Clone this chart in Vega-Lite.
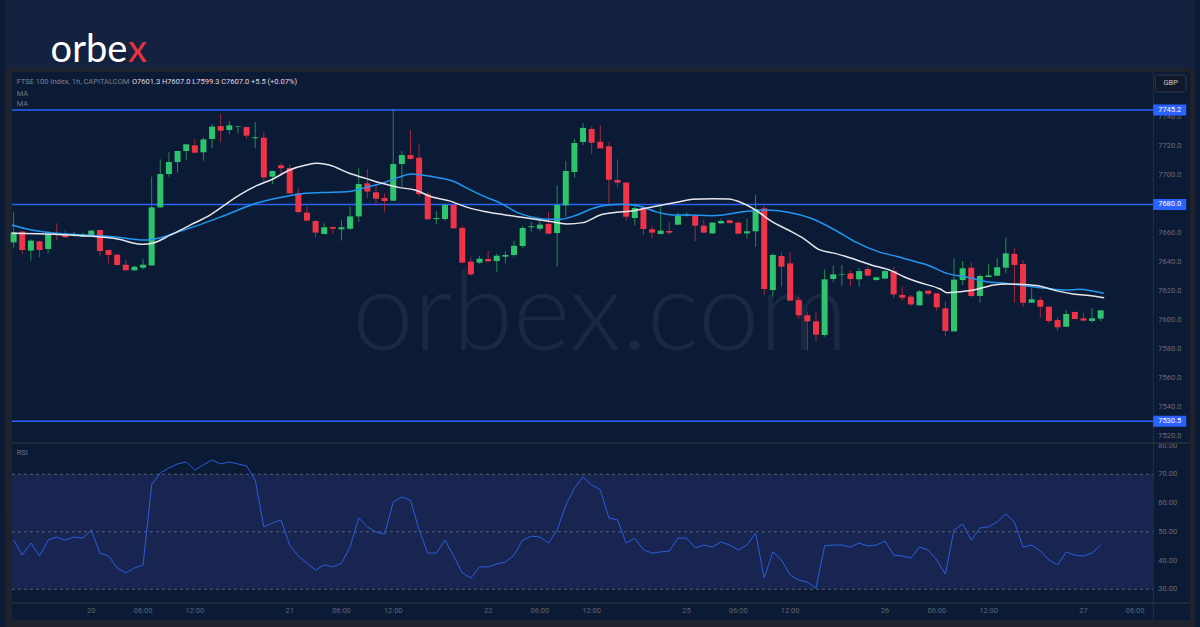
{
  "$schema": "https://vega.github.io/schema/vega-lite/v6.json",
  "width": 1200,
  "height": 627,
  "autosize": "none",
  "padding": 0,
  "background": "#0b1b36",
  "config": {"view": {"stroke": null}, "font": "Roboto", "axis": {"disable": true}},
  "datasets": {
    "candles": [
      {"i":-9,"o":7653.9,"h":7674.6,"l":7649.8,"c":7660.8},
      {"i":-8,"o":7661.3,"h":7661.7,"l":7645.9,"c":7648.6},
      {"i":-7,"o":7648.2,"h":7656.0,"l":7641.3,"c":7655.1},
      {"i":-6,"o":7654.6,"h":7655.0,"l":7643.6,"c":7648.6},
      {"i":-5,"o":7649.3,"h":7661.3,"l":7646.3,"c":7659.7},
      {"i":-4,"o":7660.1,"h":7667.0,"l":7655.5,"c":7659.0},
      {"i":-3,"o":7659.2,"h":7662.4,"l":7657.0,"c":7657.4},
      {"i":-2,"o":7658.4,"h":7661.3,"l":7657.8,"c":7659.1},
      {"i":-1,"o":7657.8,"h":7660.6,"l":7657.4,"c":7659.2},
      {"i":0,"o":7658.5,"h":7662.4,"l":7657.8,"c":7662.0},
      {"i":1,"o":7662.4,"h":7662.6,"l":7644.7,"c":7647.9},
      {"i":2,"o":7648.6,"h":7648.8,"l":7639.4,"c":7645.2},
      {"i":3,"o":7645.4,"h":7645.9,"l":7637.8,"c":7638.3},
      {"i":4,"o":7638.5,"h":7641.7,"l":7634.4,"c":7634.6},
      {"i":5,"o":7634.6,"h":7637.8,"l":7634.4,"c":7637.1},
      {"i":6,"o":7636.4,"h":7642.2,"l":7635.3,"c":7638.5},
      {"i":7,"o":7638.0,"h":7699.2,"l":7637.8,"c":7678.0},
      {"i":8,"o":7678.0,"h":7711.1,"l":7677.8,"c":7701.0},
      {"i":9,"o":7701.0,"h":7716.0,"l":7699.2,"c":7709.3},
      {"i":10,"o":7709.3,"h":7717.0,"l":7702.0,"c":7716.9},
      {"i":11,"o":7716.9,"h":7721.6,"l":7710.7,"c":7721.5},
      {"i":12,"o":7720.8,"h":7725.2,"l":7715.5,"c":7715.7},
      {"i":13,"o":7716.0,"h":7726.1,"l":7710.2,"c":7724.9},
      {"i":14,"o":7725.2,"h":7735.5,"l":7718.7,"c":7733.7},
      {"i":15,"o":7734.1,"h":7742.4,"l":7722.6,"c":7730.9},
      {"i":16,"o":7731.4,"h":7737.6,"l":7728.2,"c":7734.6},
      {"i":17,"o":7733.5,"h":7734.1,"l":7729.1,"c":7733.9},
      {"i":18,"o":7733.4,"h":7733.6,"l":7725.6,"c":7727.5},
      {"i":19,"o":7725.6,"h":7736.7,"l":7718.7,"c":7726.3},
      {"i":20,"o":7726.1,"h":7729.8,"l":7695.7,"c":7698.7},
      {"i":21,"o":7699.2,"h":7703.3,"l":7693.9,"c":7703.1},
      {"i":22,"o":7707.0,"h":7708.8,"l":7701.0,"c":7705.0},
      {"i":23,"o":7705.2,"h":7707.7,"l":7687.5,"c":7687.7},
      {"i":24,"o":7687.5,"h":7691.1,"l":7673.9,"c":7674.8},
      {"i":25,"o":7674.4,"h":7678.5,"l":7668.7,"c":7668.9},
      {"i":26,"o":7668.6,"h":7669.3,"l":7657.4,"c":7660.6},
      {"i":27,"o":7659.7,"h":7667.0,"l":7659.5,"c":7664.3},
      {"i":28,"o":7664.5,"h":7664.7,"l":7659.7,"c":7663.3},
      {"i":29,"o":7662.9,"h":7668.9,"l":7655.1,"c":7664.3},
      {"i":30,"o":7663.3,"h":7678.5,"l":7662.4,"c":7671.8},
      {"i":31,"o":7671.8,"h":7705.0,"l":7667.9,"c":7694.1},
      {"i":32,"o":7694.6,"h":7704.5,"l":7684.3,"c":7688.9},
      {"i":33,"o":7688.4,"h":7693.4,"l":7679.2,"c":7684.0},
      {"i":34,"o":7684.5,"h":7687.7,"l":7674.4,"c":7682.4},
      {"i":35,"o":7682.6,"h":7746.0,"l":7682.4,"c":7707.9},
      {"i":36,"o":7707.9,"h":7716.9,"l":7692.3,"c":7714.1},
      {"i":37,"o":7714.1,"h":7731.4,"l":7711.0,"c":7711.4},
      {"i":38,"o":7712.3,"h":7721.5,"l":7685.4,"c":7687.2},
      {"i":39,"o":7687.0,"h":7688.9,"l":7669.6,"c":7669.8},
      {"i":40,"o":7669.9,"h":7675.3,"l":7666.6,"c":7670.6},
      {"i":41,"o":7670.0,"h":7680.8,"l":7668.9,"c":7679.7},
      {"i":42,"o":7679.7,"h":7680.5,"l":7662.9,"c":7663.6},
      {"i":43,"o":7663.8,"h":7665.6,"l":7639.4,"c":7639.9},
      {"i":44,"o":7640.6,"h":7643.6,"l":7630.9,"c":7631.8},
      {"i":45,"o":7639.9,"h":7644.7,"l":7639.2,"c":7642.6},
      {"i":46,"o":7642.4,"h":7648.2,"l":7640.6,"c":7640.8},
      {"i":47,"o":7641.0,"h":7645.9,"l":7633.7,"c":7644.7},
      {"i":48,"o":7644.0,"h":7647.5,"l":7639.4,"c":7645.2},
      {"i":49,"o":7645.2,"h":7655.1,"l":7644.0,"c":7651.6},
      {"i":50,"o":7651.4,"h":7665.2,"l":7650.0,"c":7663.8},
      {"i":51,"o":7664.3,"h":7667.9,"l":7661.3,"c":7665.0},
      {"i":52,"o":7663.3,"h":7669.3,"l":7661.7,"c":7666.1},
      {"i":53,"o":7666.6,"h":7674.8,"l":7659.7,"c":7659.9},
      {"i":54,"o":7660.3,"h":7693.4,"l":7637.1,"c":7679.7},
      {"i":55,"o":7679.4,"h":7710.2,"l":7671.6,"c":7703.1},
      {"i":56,"o":7702.4,"h":7725.2,"l":7698.5,"c":7722.4},
      {"i":57,"o":7723.1,"h":7736.0,"l":7721.0,"c":7732.8},
      {"i":58,"o":7732.1,"h":7734.1,"l":7714.8,"c":7722.6},
      {"i":59,"o":7723.3,"h":7734.6,"l":7718.5,"c":7718.7},
      {"i":60,"o":7720.1,"h":7722.9,"l":7680.3,"c":7697.1},
      {"i":61,"o":7696.9,"h":7711.1,"l":7691.8,"c":7695.1},
      {"i":62,"o":7695.1,"h":7695.7,"l":7668.9,"c":7671.6},
      {"i":63,"o":7670.7,"h":7680.8,"l":7665.4,"c":7677.6},
      {"i":64,"o":7677.8,"h":7678.5,"l":7659.0,"c":7663.1},
      {"i":65,"o":7662.9,"h":7665.2,"l":7656.7,"c":7660.6},
      {"i":66,"o":7659.7,"h":7679.0,"l":7659.5,"c":7662.0},
      {"i":67,"o":7661.7,"h":7667.7,"l":7659.0,"c":7660.6},
      {"i":68,"o":7666.1,"h":7674.6,"l":7665.9,"c":7672.5},
      {"i":69,"o":7672.3,"h":7674.6,"l":7671.6,"c":7673.0},
      {"i":70,"o":7672.3,"h":7672.5,"l":7654.8,"c":7665.4},
      {"i":71,"o":7665.4,"h":7669.8,"l":7660.4,"c":7660.6},
      {"i":72,"o":7660.1,"h":7667.7,"l":7659.7,"c":7667.5},
      {"i":73,"o":7667.0,"h":7670.2,"l":7666.6,"c":7668.6},
      {"i":74,"o":7669.1,"h":7669.8,"l":7667.0,"c":7667.2},
      {"i":75,"o":7667.5,"h":7668.4,"l":7659.7,"c":7659.9},
      {"i":76,"o":7660.1,"h":7670.0,"l":7656.4,"c":7661.5},
      {"i":77,"o":7661.5,"h":7686.6,"l":7650.9,"c":7676.7},
      {"i":78,"o":7677.4,"h":7679.0,"l":7617.6,"c":7621.7},
      {"i":79,"o":7621.0,"h":7646.3,"l":7616.4,"c":7645.2},
      {"i":80,"o":7644.5,"h":7646.8,"l":7623.3,"c":7637.1},
      {"i":81,"o":7639.4,"h":7647.2,"l":7613.5,"c":7613.7},
      {"i":82,"o":7614.1,"h":7616.4,"l":7601.3,"c":7603.6},
      {"i":83,"o":7603.6,"h":7606.1,"l":7579.6,"c":7599.4},
      {"i":84,"o":7599.4,"h":7605.9,"l":7585.4,"c":7590.2},
      {"i":85,"o":7590.0,"h":7635.3,"l":7588.9,"c":7628.4},
      {"i":86,"o":7628.6,"h":7638.0,"l":7626.3,"c":7631.8},
      {"i":87,"o":7631.4,"h":7638.3,"l":7624.0,"c":7631.8},
      {"i":88,"o":7632.5,"h":7634.4,"l":7623.8,"c":7628.6},
      {"i":89,"o":7628.4,"h":7636.2,"l":7623.3,"c":7634.1},
      {"i":90,"o":7635.5,"h":7636.7,"l":7630.7,"c":7630.9},
      {"i":91,"o":7627.9,"h":7630.2,"l":7627.5,"c":7629.8},
      {"i":92,"o":7628.9,"h":7635.3,"l":7628.4,"c":7634.1},
      {"i":93,"o":7634.1,"h":7637.1,"l":7615.3,"c":7618.0},
      {"i":94,"o":7617.6,"h":7623.3,"l":7613.7,"c":7615.7},
      {"i":95,"o":7616.4,"h":7617.6,"l":7610.0,"c":7611.1},
      {"i":96,"o":7610.5,"h":7621.0,"l":7610.3,"c":7620.1},
      {"i":97,"o":7620.6,"h":7620.8,"l":7617.4,"c":7618.5},
      {"i":98,"o":7618.7,"h":7618.9,"l":7606.8,"c":7609.1},
      {"i":99,"o":7608.4,"h":7613.4,"l":7588.9,"c":7592.8},
      {"i":100,"o":7592.5,"h":7642.9,"l":7592.3,"c":7628.2},
      {"i":101,"o":7627.9,"h":7641.0,"l":7624.5,"c":7636.0},
      {"i":102,"o":7636.4,"h":7640.1,"l":7616.0,"c":7616.9},
      {"i":103,"o":7616.9,"h":7631.8,"l":7612.3,"c":7630.7},
      {"i":104,"o":7630.0,"h":7639.2,"l":7629.8,"c":7631.1},
      {"i":105,"o":7630.9,"h":7642.9,"l":7630.7,"c":7636.7},
      {"i":106,"o":7636.4,"h":7657.1,"l":7632.5,"c":7646.3},
      {"i":107,"o":7645.9,"h":7649.8,"l":7612.3,"c":7638.3},
      {"i":108,"o":7638.9,"h":7641.7,"l":7609.5,"c":7612.3},
      {"i":109,"o":7612.3,"h":7622.2,"l":7612.1,"c":7614.6},
      {"i":110,"o":7614.1,"h":7616.0,"l":7602.2,"c":7609.5},
      {"i":111,"o":7609.5,"h":7610.0,"l":7598.0,"c":7599.7},
      {"i":112,"o":7600.3,"h":7602.2,"l":7593.0,"c":7595.3},
      {"i":113,"o":7595.7,"h":7607.2,"l":7595.5,"c":7604.5},
      {"i":114,"o":7605.9,"h":7606.0,"l":7600.8,"c":7601.0},
      {"i":115,"o":7601.5,"h":7605.4,"l":7599.8,"c":7599.9},
      {"i":116,"o":7599.7,"h":7608.4,"l":7598.5,"c":7601.5},
      {"i":117,"o":7601.3,"h":7607.0,"l":7599.3,"c":7607.0}
    ],
    "maw": [
      {"i":-9.2,"v":7660.1},{"i":-4.25,"v":7659.4},{"i":2.6,"v":7656.7},{"i":6.1,"v":7652.5},
      {"i":7.05,"v":7653.2},{"i":9.2,"v":7659.0},{"i":11.5,"v":7665.9},{"i":13.8,"v":7672.8},
      {"i":15.3,"v":7679.0},{"i":17.2,"v":7686.6},{"i":19.1,"v":7692.8},{"i":21.0,"v":7697.4},
      {"i":23.0,"v":7703.8},{"i":24.9,"v":7707.2},{"i":26.2,"v":7708.4},{"i":27.6,"v":7707.2},
      {"i":29.9,"v":7701.5},{"i":31.8,"v":7698.0},{"i":33.7,"v":7694.6},{"i":35.6,"v":7691.8},
      {"i":37.5,"v":7690.0},{"i":39.4,"v":7685.4},{"i":41.5,"v":7682.5},{"i":43.6,"v":7678.0},
      {"i":45.6,"v":7675.1},{"i":49.4,"v":7671.6},{"i":53.2,"v":7668.2},{"i":55.1,"v":7666.6},
      {"i":57.0,"v":7667.5},{"i":59.0,"v":7672.8},{"i":60.9,"v":7674.6},{"i":62.8,"v":7675.7},
      {"i":64.7,"v":7678.0},{"i":66.6,"v":7680.1},{"i":68.2,"v":7681.9},{"i":69.7,"v":7683.6},
      {"i":72.0,"v":7684.0},{"i":73.9,"v":7683.8},{"i":75.1,"v":7681.9},{"i":77.0,"v":7676.2},
      {"i":78.9,"v":7668.2},{"i":80.8,"v":7662.4},{"i":82.7,"v":7656.0},{"i":84.3,"v":7649.1},
      {"i":86.2,"v":7646.3},{"i":88.1,"v":7642.9},{"i":90.4,"v":7638.3},{"i":92.7,"v":7634.4},
      {"i":94.2,"v":7630.2},{"i":96.0,"v":7626.2},{"i":98.4,"v":7621.7},{"i":99.2,"v":7619.2},
      {"i":100.7,"v":7619.9},{"i":102.3,"v":7621.0},{"i":104.6,"v":7624.5},{"i":106.1,"v":7625.2},
      {"i":108.0,"v":7624.9},{"i":109.9,"v":7623.8},{"i":111.8,"v":7620.6},{"i":113.8,"v":7618.3},
      {"i":116.1,"v":7616.9},{"i":117.4,"v":7615.7}
    ],
    "mab": [
      {"i":-9.2,"v":7665.9},{"i":-6.9,"v":7662.4},{"i":-2.3,"v":7659.4},{"i":2.6,"v":7657.8},
      {"i":6.1,"v":7655.5},{"i":8.0,"v":7657.1},{"i":9.9,"v":7660.8},{"i":13.0,"v":7667.0},
      {"i":15.3,"v":7672.1},{"i":19.1,"v":7680.8},{"i":23.0,"v":7686.1},{"i":24.9,"v":7687.7},
      {"i":26.8,"v":7688.2},{"i":29.9,"v":7688.9},{"i":31.8,"v":7691.8},{"i":33.7,"v":7694.6},
      {"i":35.6,"v":7698.7},{"i":37.1,"v":7701.0},{"i":38.3,"v":7700.3},{"i":40.2,"v":7698.5},
      {"i":42.1,"v":7695.7},{"i":43.6,"v":7691.1},{"i":45.6,"v":7685.4},{"i":47.5,"v":7680.8},
      {"i":49.4,"v":7674.4},{"i":51.3,"v":7671.1},{"i":53.2,"v":7669.8},{"i":54.4,"v":7669.8},
      {"i":56.3,"v":7672.8},{"i":58.2,"v":7677.4},{"i":59.7,"v":7679.4},{"i":61.6,"v":7680.1},
      {"i":63.5,"v":7679.0},{"i":65.4,"v":7675.1},{"i":67.4,"v":7672.8},{"i":69.3,"v":7672.8},
      {"i":72.0,"v":7672.3},{"i":75.8,"v":7675.1},{"i":78.1,"v":7676.2},{"i":80.8,"v":7674.6},
      {"i":83.4,"v":7670.5},{"i":86.2,"v":7662.4},{"i":88.5,"v":7654.4},{"i":91.2,"v":7647.5},
      {"i":93.5,"v":7644.0},{"i":95.7,"v":7640.3},{"i":96.9,"v":7638.3},{"i":99.2,"v":7632.5},
      {"i":101.5,"v":7629.8},{"i":103.8,"v":7626.8},{"i":106.1,"v":7625.6},{"i":108.4,"v":7623.8},
      {"i":110.7,"v":7622.2},{"i":113.0,"v":7621.0},{"i":114.5,"v":7621.5},{"i":116.1,"v":7620.3},
      {"i":117.4,"v":7618.7}
    ],
    "rsi": [
      {"i":-9,"r":47.1},{"i":-8,"r":41.9},{"i":-7,"r":46.1},{"i":-6,"r":41.6},{"i":-5,"r":47.1},
      {"i":-4,"r":48.2},{"i":-3,"r":47.1},{"i":-2,"r":48.2},{"i":-1,"r":47.8},{"i":0,"r":50.6},
      {"i":1,"r":42.6},{"i":2,"r":41.6},{"i":3,"r":37.4},{"i":4,"r":35.7},{"i":5,"r":37.4},
      {"i":6,"r":38.5},{"i":7,"r":66.3},{"i":8,"r":70.5},{"i":9,"r":72.2},{"i":10,"r":73.6},
      {"i":11,"r":74.3},{"i":12,"r":71.5},{"i":13,"r":73.3},{"i":14,"r":75.0},{"i":15,"r":73.6},
      {"i":16,"r":74.3},{"i":17,"r":73.6},{"i":18,"r":72.9},{"i":19,"r":68.0},{"i":20,"r":51.7},
      {"i":21,"r":53.1},{"i":22,"r":54.1},{"i":23,"r":45.4},{"i":24,"r":41.6},{"i":25,"r":39.1},
      {"i":26,"r":36.7},{"i":27,"r":38.5},{"i":28,"r":37.8},{"i":29,"r":39.1},{"i":30,"r":44.7},
      {"i":31,"r":54.8},{"i":32,"r":51.7},{"i":33,"r":49.9},{"i":34,"r":49.2},{"i":35,"r":60.4},
      {"i":36,"r":62.1},{"i":37,"r":61.0},{"i":38,"r":50.6},{"i":39,"r":42.6},{"i":40,"r":42.6},
      {"i":41,"r":47.1},{"i":42,"r":41.6},{"i":43,"r":35.7},{"i":44,"r":33.9},{"i":45,"r":37.8},
      {"i":46,"r":37.8},{"i":47,"r":38.8},{"i":48,"r":39.5},{"i":49,"r":41.9},{"i":50,"r":47.1},
      {"i":51,"r":48.5},{"i":52,"r":48.2},{"i":53,"r":46.1},{"i":54,"r":50.6},{"i":55,"r":59.3},
      {"i":56,"r":65.2},{"i":57,"r":69.1},{"i":58,"r":66.3},{"i":59,"r":64.6},{"i":60,"r":54.8},
      {"i":61,"r":54.1},{"i":62,"r":46.1},{"i":63,"r":47.8},{"i":64,"r":43.7},{"i":65,"r":42.6},
      {"i":66,"r":43.0},{"i":67,"r":43.3},{"i":68,"r":47.8},{"i":69,"r":47.8},{"i":70,"r":44.4},
      {"i":71,"r":45.4},{"i":72,"r":44.7},{"i":73,"r":46.5},{"i":74,"r":45.4},{"i":75,"r":43.7},
      {"i":76,"r":45.4},{"i":77,"r":49.6},{"i":78,"r":33.9},{"i":79,"r":43.0},{"i":80,"r":40.2},
      {"i":81,"r":35.0},{"i":82,"r":33.2},{"i":83,"r":32.5},{"i":84,"r":30.4},{"i":85,"r":45.1},
      {"i":86,"r":45.4},{"i":87,"r":45.4},{"i":88,"r":44.7},{"i":89,"r":46.1},{"i":90,"r":45.1},
      {"i":91,"r":45.4},{"i":92,"r":46.8},{"i":93,"r":41.9},{"i":94,"r":41.6},{"i":95,"r":40.9},
      {"i":96,"r":44.7},{"i":97,"r":43.7},{"i":98,"r":40.2},{"i":99,"r":35.3},{"i":100,"r":50.6},
      {"i":101,"r":52.7},{"i":102,"r":47.1},{"i":103,"r":51.3},{"i":104,"r":51.7},{"i":105,"r":53.4},
      {"i":106,"r":56.2},{"i":107,"r":53.4},{"i":108,"r":44.7},{"i":109,"r":45.4},{"i":110,"r":43.3},
      {"i":111,"r":40.2},{"i":112,"r":38.5},{"i":113,"r":43.0},{"i":114,"r":41.9},{"i":115,"r":41.6},
      {"i":116,"r":42.6},{"i":117,"r":45.4}
    ],
    "levels": [{"v":7745.2},{"v":7680.0},{"v":7530.5}],
    "rsilev": [{"v":70},{"v":50},{"v":30}],
    "pticks": [{"v":7520},{"v":7540},{"v":7560},{"v":7580},{"v":7600},{"v":7620},{"v":7640},{"v":7660},{"v":7680},{"v":7700},{"v":7720},{"v":7740}],
    "rticks": [{"v":30},{"v":40},{"v":50},{"v":60},{"v":70},{"v":80}],
    "xticks": [
      {"i":0,"t":"20"},{"i":6,"t":"06:00"},{"i":12,"t":"12:00"},
      {"i":23,"t":"21"},{"i":29,"t":"06:00"},{"i":35,"t":"12:00"},
      {"i":46,"t":"22"},{"i":52,"t":"06:00"},{"i":58,"t":"12:00"},
      {"i":69,"t":"25"},{"i":75,"t":"06:00"},{"i":81,"t":"12:00"},
      {"i":92,"t":"26"},{"i":98,"t":"06:00"},{"i":104,"t":"12:00"},
      {"i":115,"t":"27"},{"i":121,"t":"06:00"}
    ]
  },
  "layer": [
    {
      "layer": [
        {
          "data": {"values": [{}]},
          "mark": {"type": "rect", "color": "#172550"},
          "encoding": {
            "x": {"datum": -9.195, "type": "quantitative", "scale": {"domain": [-10, 127.931], "nice": false, "zero": false}, "axis": null},
            "x2": {"datum": 123.103},
            "y": {"datum": 30, "type": "quantitative", "scale": {"domain": [16.89, 234.97], "nice": false, "zero": false}, "axis": null},
            "y2": {"datum": 70}
          }
        },
        {
          "data": {"name": "rsilev"},
          "mark": {"type": "rule", "color": "#787b86", "strokeWidth": 1, "strokeDash": [3, 3], "opacity": 0.7},
          "encoding": {
            "x": {"datum": -9.195, "type": "quantitative", "axis": null},
            "x2": {"datum": 123.103},
            "y": {"field": "v", "type": "quantitative", "axis": null}
          }
        },
        {
          "data": {"name": "rsi"},
          "mark": {"type": "line", "color": "#2b5ce0", "strokeWidth": 1},
          "encoding": {
            "x": {"field": "i", "type": "quantitative", "axis": null},
            "y": {"field": "r", "type": "quantitative", "axis": null}
          }
        },
        {
          "data": {"name": "rticks"},
          "mark": {"type": "text", "fontSize": 7.5, "color": "#656c7c", "align": "left", "baseline": "middle"},
          "encoding": {
            "x": {"datum": 123.678, "type": "quantitative", "axis": null},
            "y": {"field": "v", "type": "quantitative", "axis": null},
            "text": {"field": "v", "type": "quantitative", "format": ".2f"}
          }
        },
        {
          "data": {"values": [{}]},
          "mark": {"type": "text", "text": "RSI", "fontSize": 7.5, "color": "#6d7384", "align": "left", "baseline": "middle"},
          "encoding": {
            "x": {"datum": -8.65, "type": "quantitative", "axis": null},
            "y": {"datum": 77.41, "type": "quantitative", "axis": null}
          }
        }
      ]
    },
    {
      "layer": [
        {
          "data": {"values": [{}]},
          "mark": {"type": "rect", "color": "#15223f"},
          "encoding": {
            "x": {"datum": -10, "type": "quantitative", "axis": null},
            "x2": {"datum": 127.931},
            "y": {"datum": 7821.03, "type": "quantitative", "scale": {"domain": [7388.62, 7821.03], "nice": false, "zero": false}, "axis": null},
            "y2": {"datum": 7774.14}
          }
        },
        {
          "data": {"values": [{}]},
          "mark": {"type": "rect", "color": "#1e222d"},
          "encoding": {
            "x": {"datum": -10, "type": "quantitative", "axis": null},
            "x2": {"datum": 127.931},
            "y": {"datum": 7774.14, "type": "quantitative", "axis": null},
            "y2": {"datum": 7771.38}
          }
        },
        {
          "data": {"values": [{}]},
          "mark": {"type": "rect", "color": "#1e222d"},
          "encoding": {
            "x": {"datum": -10, "type": "quantitative", "axis": null},
            "x2": {"datum": 127.931},
            "y": {"datum": 7393.45, "type": "quantitative", "axis": null},
            "y2": {"datum": 7388.62}
          }
        },
        {
          "data": {"values": [{}]},
          "mark": {"type": "rect", "color": "#1e222d"},
          "encoding": {
            "x": {"datum": -10, "type": "quantitative", "axis": null},
            "x2": {"datum": -9.195},
            "y": {"datum": 7774.14, "type": "quantitative", "axis": null},
            "y2": {"datum": 7388.62}
          }
        },
        {
          "data": {"values": [{}]},
          "mark": {"type": "rect", "color": "#1e222d"},
          "encoding": {
            "x": {"datum": 127.356, "type": "quantitative", "axis": null},
            "x2": {"datum": 127.931},
            "y": {"datum": 7774.14, "type": "quantitative", "axis": null},
            "y2": {"datum": 7388.62}
          }
        },
        {
          "data": {"values": [{}]},
          "mark": {"type": "rect", "color": "#0b1b36"},
          "encoding": {
            "x": {"datum": 123.218, "type": "quantitative", "axis": null},
            "x2": {"datum": 127.356},
            "y": {"datum": 7517.3, "type": "quantitative", "axis": null},
            "y2": {"datum": 7515.52}
          }
        },
        {
          "data": {"values": [{}]},
          "mark": {"type": "text", "text": "orbex.com", "font": "Lato", "fontWeight": 300, "fontSize": 110, "color": "#ffffff", "opacity": 0.06, "align": "center", "baseline": "alphabetic"},
          "encoding": {
            "x": {"datum": 58.966, "type": "quantitative", "axis": null},
            "y": {"datum": 7579.66, "type": "quantitative", "axis": null}
          }
        },
        {
          "data": {"values": [{}]},
          "mark": {"type": "rule", "color": "#2a2e39", "strokeWidth": 1},
          "encoding": {
            "x": {"datum": 123.103, "type": "quantitative", "axis": null},
            "y": {"datum": 7771.38, "type": "quantitative", "axis": null},
            "y2": {"datum": 7393.45}
          }
        },
        {
          "data": {"values": [{}]},
          "mark": {"type": "rule", "color": "#2a2e39", "strokeWidth": 1.5},
          "encoding": {
            "x": {"datum": -9.195, "type": "quantitative", "axis": null},
            "x2": {"datum": 127.356},
            "y": {"datum": 7515.52, "type": "quantitative", "axis": null}
          }
        },
        {
          "data": {"values": [{}]},
          "mark": {"type": "rule", "color": "#2a2e39", "strokeWidth": 1.5},
          "encoding": {
            "x": {"datum": -9.195, "type": "quantitative", "axis": null},
            "x2": {"datum": 127.356},
            "y": {"datum": 7405.17, "type": "quantitative", "axis": null}
          }
        },
        {
          "data": {"name": "pticks"},
          "mark": {"type": "text", "fontSize": 7.5, "color": "#656c7c", "align": "left", "baseline": "middle"},
          "encoding": {
            "x": {"datum": 123.678, "type": "quantitative", "axis": null},
            "y": {"field": "v", "type": "quantitative", "axis": null},
            "text": {"field": "v", "type": "quantitative", "format": ".1f"}
          }
        },
        {
          "data": {"name": "xticks"},
          "mark": {"type": "text", "fontSize": 7.5, "color": "#5d6474", "align": "center", "baseline": "middle"},
          "encoding": {
            "x": {"field": "i", "type": "quantitative", "axis": null},
            "y": {"datum": 7399.66, "type": "quantitative", "axis": null},
            "text": {"field": "t", "type": "nominal"}
          }
        },
        {
          "data": {"name": "levels"},
          "mark": {"type": "rule", "color": "#2962ff", "strokeWidth": 1.5},
          "encoding": {
            "x": {"datum": -9.195, "type": "quantitative", "axis": null},
            "x2": {"datum": 123.103},
            "y": {"field": "v", "type": "quantitative", "axis": null}
          }
        },
        {
          "data": {"name": "levels"},
          "mark": {"type": "tick", "orient": "horizontal", "size": 33, "thickness": 11, "color": "#2962ff", "opacity": 1},
          "encoding": {
            "x": {"datum": 125.0, "type": "quantitative", "axis": null},
            "y": {"field": "v", "type": "quantitative", "axis": null}
          }
        },
        {
          "data": {"name": "levels"},
          "mark": {"type": "text", "color": "#ffffff", "fontSize": 7.5, "align": "center", "baseline": "middle"},
          "encoding": {
            "x": {"datum": 125.0, "type": "quantitative", "axis": null},
            "y": {"field": "v", "type": "quantitative", "axis": null},
            "text": {"field": "v", "type": "quantitative", "format": ".1f"}
          }
        },
        {
          "data": {"name": "candles"},
          "mark": {"type": "rule", "strokeWidth": 1},
          "encoding": {
            "x": {"field": "i", "type": "quantitative", "axis": null},
            "y": {"field": "l", "type": "quantitative", "axis": null},
            "y2": {"field": "h"},
            "color": {"condition": {"test": "datum.c >= datum.o", "value": "#1f8a50"}, "value": "#a3283a"}
          }
        },
        {
          "data": {"name": "candles"},
          "mark": {"type": "bar", "width": 6, "minBandSize": 1},
          "encoding": {
            "x": {"field": "i", "type": "quantitative", "axis": null},
            "y": {"field": "o", "type": "quantitative", "axis": null},
            "y2": {"field": "c"},
            "color": {"condition": {"test": "datum.c >= datum.o", "value": "#2ec46d"}, "value": "#f03447"}
          }
        },
        {
          "data": {"name": "mab"},
          "mark": {"type": "line", "color": "#2196f3", "strokeWidth": 1.5, "interpolate": "monotone"},
          "encoding": {
            "x": {"field": "i", "type": "quantitative", "axis": null},
            "y": {"field": "v", "type": "quantitative", "axis": null}
          }
        },
        {
          "data": {"name": "maw"},
          "mark": {"type": "line", "color": "#e6e6ea", "strokeWidth": 1.5, "interpolate": "monotone"},
          "encoding": {
            "x": {"field": "i", "type": "quantitative", "axis": null},
            "y": {"field": "v", "type": "quantitative", "axis": null}
          }
        },
        {
          "data": {"values": [{}]},
          "mark": {"type": "text", "text": "FTSE 100 Index, 1h, CAPITALCOM", "fontSize": 7.5, "color": "#7a8091", "align": "left", "baseline": "middle"},
          "encoding": {
            "x": {"datum": -8.65, "type": "quantitative", "axis": null},
            "y": {"datum": 7764.28, "type": "quantitative", "axis": null}
          }
        },
        {
          "data": {"values": [{}]},
          "mark": {"type": "text", "text": "O7601.3  H7607.0  L7599.3  C7607.0  +5.5 (+0.07%)", "fontSize": 7.5, "color": "#e4d8e2", "align": "left", "baseline": "middle"},
          "encoding": {
            "x": {"datum": 4.713, "type": "quantitative", "axis": null},
            "y": {"datum": 7764.28, "type": "quantitative", "axis": null}
          }
        },
        {
          "data": {"values": [{}]},
          "mark": {"type": "text", "text": "MA", "fontSize": 7.5, "color": "#6d7384", "align": "left", "baseline": "middle"},
          "encoding": {
            "x": {"datum": -8.65, "type": "quantitative", "axis": null},
            "y": {"datum": 7756.21, "type": "quantitative", "axis": null}
          }
        },
        {
          "data": {"values": [{}]},
          "mark": {"type": "text", "text": "MA", "fontSize": 7.5, "color": "#6d7384", "align": "left", "baseline": "middle"},
          "encoding": {
            "x": {"datum": -8.65, "type": "quantitative", "axis": null},
            "y": {"datum": 7749.31, "type": "quantitative", "axis": null}
          }
        },
        {
          "data": {"values": [{}]},
          "mark": {"type": "rect", "color": "#10192c", "stroke": "#363a45", "strokeWidth": 1, "cornerRadius": 3},
          "encoding": {
            "x": {"datum": 123.333, "type": "quantitative", "axis": null},
            "x2": {"datum": 126.897},
            "y": {"datum": 7769.31, "type": "quantitative", "axis": null},
            "y2": {"datum": 7757.59}
          }
        },
        {
          "data": {"values": [{}]},
          "mark": {"type": "text", "text": "GBP", "fontSize": 7.5, "color": "#c8cbd3", "align": "center", "baseline": "middle"},
          "encoding": {
            "x": {"datum": 125.115, "type": "quantitative", "axis": null},
            "y": {"datum": 7763.45, "type": "quantitative", "axis": null}
          }
        },
        {
          "data": {"values": [{}]},
          "mark": {"type": "text", "text": "orbe", "font": "Lato", "fontSize": 38, "color": "#ffffff", "align": "left", "baseline": "alphabetic"},
          "encoding": {
            "x": {"datum": -4.713, "type": "quantitative", "axis": null},
            "y": {"datum": 7778.48, "type": "quantitative", "axis": null}
          }
        },
        {
          "data": {"values": [{}]},
          "mark": {"type": "text", "text": "x", "font": "Lato", "fontSize": 38, "color": "#e8323e", "align": "left", "baseline": "alphabetic"},
          "encoding": {
            "x": {"datum": 4.253, "type": "quantitative", "axis": null},
            "y": {"datum": 7778.48, "type": "quantitative", "axis": null}
          }
        }
      ]
    }
  ],
  "resolve": {"scale": {"y": "independent"}}
}
